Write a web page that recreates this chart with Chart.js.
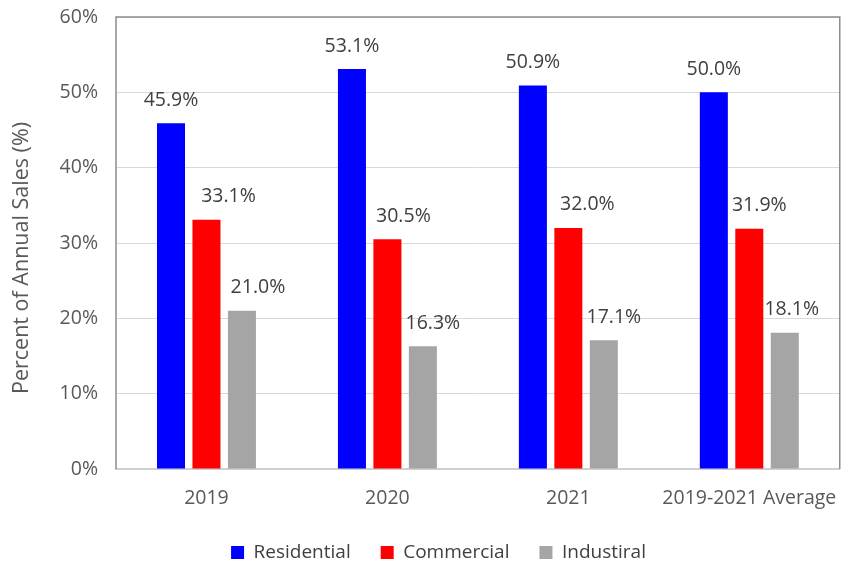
<!DOCTYPE html>
<html lang="en">
  <head>
    <meta charset="UTF-8" />
    <title>Annual Sales Share</title>
    <script src="https://cdn.jsdelivr.net/npm/chart.js"></script>
    <style>
      html, body { margin: 0; padding: 0; background: #fff; }
      #wrap { width: 847px; height: 563px; }
    </style>
  </head>
  <body>
    <div id="wrap"><canvas id="salesChart"></canvas></div>
  </body>
  <script>
    // data
    const categories = ["2019", "2020", "2021", "2019-2021 Average"];
    const residential = [45.9, 53.1, 50.9, 50.0];
    const commercial = [33.1, 30.5, 32.0, 31.9];
    const industrial = [21.0, 16.3, 17.1, 18.1];
    const yTicks = [0, 10, 20, 30, 40, 50, 60];
    const yTitle = "Percent of Annual Sales (%)";

    // the labels were nudged sideways by hand in the original (px)
    const labelShift = [
      [0, 0, 0, 0],
      [22, 16, 19, 10],
      [16, 10, 10, 7],
    ];

    const FONT = "'Open Sans', 'Noto Sans', sans-serif";

    // value labels above each bar
    const barLabels = {
      id: "barLabels",
      afterDatasetsDraw(chart) {
        const ctx = chart.ctx;
        ctx.save();
        ctx.font = "19.5px " + FONT;
        ctx.fillStyle = "#404040";
        ctx.textAlign = "center";
        ctx.textBaseline = "middle";
        chart.data.datasets.forEach((ds, i) => {
          chart.getDatasetMeta(i).data.forEach((bar, j) => {
            ctx.fillText(ds.data[j].toFixed(1) + "%", bar.x + labelShift[i][j], bar.y - 23);
          });
        });
        ctx.restore();
      },
    };

    // gray frame round the plot area + the y axis title
    const plotFrame = {
      id: "plotFrame",
      afterDraw(chart) {
        const a = chart.chartArea;
        const ctx = chart.ctx;
        ctx.save();
        ctx.strokeStyle = "#8c8c8c";
        ctx.lineWidth = 1.5;
        ctx.beginPath();
        ctx.moveTo(a.left, a.bottom);
        ctx.lineTo(a.left, a.top);
        ctx.lineTo(a.right, a.top);
        ctx.lineTo(a.right, a.bottom);
        ctx.stroke();

        // title sits a bit below the middle of the plot, like the original
        ctx.translate(22, (a.top + a.bottom) / 2 + 15);
        ctx.rotate(-Math.PI / 2);
        ctx.font = "21.5px " + FONT;
        ctx.fillStyle = "#595959";
        ctx.textAlign = "center";
        ctx.textBaseline = "middle";
        ctx.fillText(yTitle, 0, 0);
        ctx.restore();
      },
    };

    const ctx = document.getElementById("salesChart").getContext("2d");
    new Chart(ctx, {
      type: "bar",
      data: {
        labels: categories,
        datasets: [
          { label: "Residential", data: residential, backgroundColor: "#0000ff" },
          { label: "Commercial", data: commercial, backgroundColor: "#ff0000" },
          { label: "Industiral", data: industrial, backgroundColor: "#a5a5a5" },
        ],
      },
      options: {
        responsive: true,
        maintainAspectRatio: false,
        animation: false,
        categoryPercentage: 0.588,
        barPercentage: 0.79,
        layout: { padding: { top: 17, right: 6, left: 36, bottom: -9 } },
        plugins: {
          tooltip: { enabled: false },
          legend: {
            position: "bottom",
            labels: {
              boxWidth: 13,
              boxHeight: 13,
              padding: 30,
              color: "#404040",
              font: { family: FONT, size: 19 },
            },
          },
        },
        scales: {
          x: {
            grid: { display: false },
            border: { color: "#d0d0d0", width: 2 },
            ticks: {
              color: "#595959",
              font: { family: FONT, size: 19.5 },
              maxRotation: 0,
              padding: 10,
            },
            afterFit(scale) { scale.height = 44; },
          },
          y: {
            min: 0,
            max: 60,
            afterBuildTicks(scale) {
              scale.ticks = yTicks.map((v) => ({ value: v }));
            },
            grid: { color: "#d9d9d9", drawTicks: false },
            border: { display: false },
            ticks: {
              color: "#595959",
              font: { family: FONT, size: 19.5 },
              padding: 18,
              callback: (v) => v + "%",
            },
            afterFit(scale) {
              scale.width = 80;
              // tick padding would otherwise push the plot down
              scale.paddingTop = 0;
              scale.paddingBottom = 0;
            },
          },
        },
      },
      plugins: [barLabels, plotFrame],
    });
  </script>
</html>
